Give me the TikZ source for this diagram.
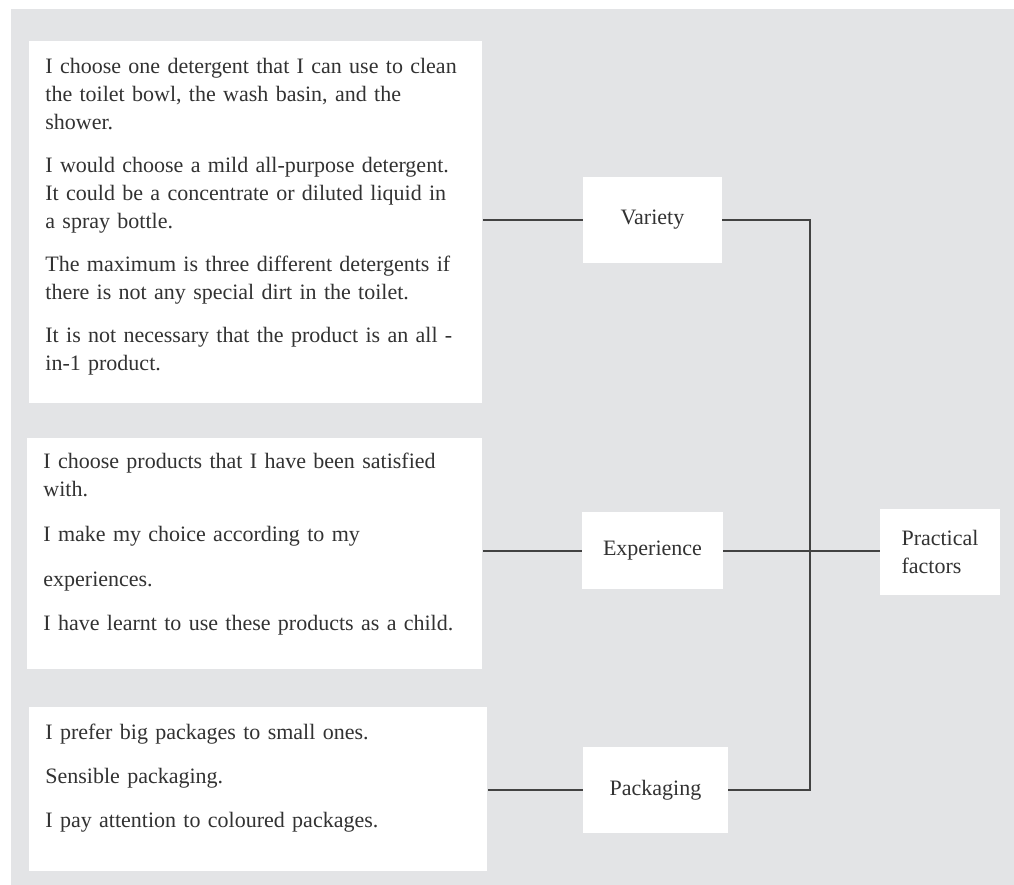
\documentclass[tikz,border=0pt]{standalone}
\usepackage{fontspec}
\setmainfont{Liberation Serif}
\usetikzlibrary{positioning,calc}
\definecolor{panelgrey}{RGB}{227,228,230}
\definecolor{inkgrey}{RGB}{50,50,50}
\definecolor{wiregrey}{RGB}{66,66,66}

\begin{document}
\begin{tikzpicture}[x=0.5pt,y=-0.5pt,
  every node/.style={font=\fontsize{11}{14}\selectfont,text=inkgrey},
  panel/.style={fill=white,draw=none,inner sep=0pt,anchor=north west},
  quote/.style={anchor=north west,align=left,inner xsep=8pt,inner ysep=8.5pt,text width=218pt},
  factor/.style={fill=white,draw=none,inner sep=0pt,align=center},
  ln/.style={draw=wiregrey,line width=1pt}]
\useasboundingbox (0,0) rectangle (1014,885);
\fill[panelgrey] (11,9) rectangle (1014,885);

\node[panel,minimum width=226.5pt,minimum height=181pt] (vbox) at (29,41) {};
\node[panel,minimum width=227.5pt,minimum height=115.5pt] (ebox) at (27,438) {};
\node[panel,minimum width=229pt,minimum height=82pt] (pbox) at (29,707) {};

\node[quote] (vtxt) at (vbox.north west) {I choose one detergent that I can use to clean\\
  the toilet bowl, the wash basin, and the\\shower.\\[7.5pt]
  I would choose a mild all-purpose detergent.\\
  It could be a concentrate or diluted liquid in\\a spray bottle.\\[7.5pt]
  The maximum is three different detergents if\\
  there is not any special dirt in the toilet.\\[7.5pt]
  It is not necessary that the product is an all -\\in-1 product.};
\node[quote,inner ysep=7.5pt] (etxt) at (ebox.north west) {I choose products that I have been satisfied\\with.\\[8.5pt]
  I make my choice according to my\\[8.5pt]
  experiences.\\[8pt]
  I have learnt to use these products as a child.};
\node[quote] (ptxt) at (pbox.north west) {I prefer big packages to small ones.\\[8pt]
  Sensible packaging.\\[8pt]
  I pay attention to coloured packages.};

\node[factor,minimum width=69.5pt,minimum height=43pt] (var) at (652.5,220) {Variety};
\node[factor,minimum width=70.5pt,minimum height=38.5pt] (exp) at (652.5,550.5) {Experience};
\node[factor,minimum width=72.5pt,minimum height=43pt] (pack) at (655.5,790) {Packaging};
\node[factor,minimum width=60pt,minimum height=43pt,align=left] (prac) at (940,552) {Practical\\factors};
\coordinate (bus) at (810,550);

\draw[ln] (vbox.east |- var.west) -- (var.west);
\draw[ln] (ebox.east |- exp.west) -- (exp.west);
\draw[ln] (pbox.east |- pack.west) -- (pack.west);
\draw[ln] (var.east) -| (bus |- pack.east) -- (pack.east);
\draw[ln] (exp.east) -- (exp.east -| prac.west);
\end{tikzpicture}
\end{document}
